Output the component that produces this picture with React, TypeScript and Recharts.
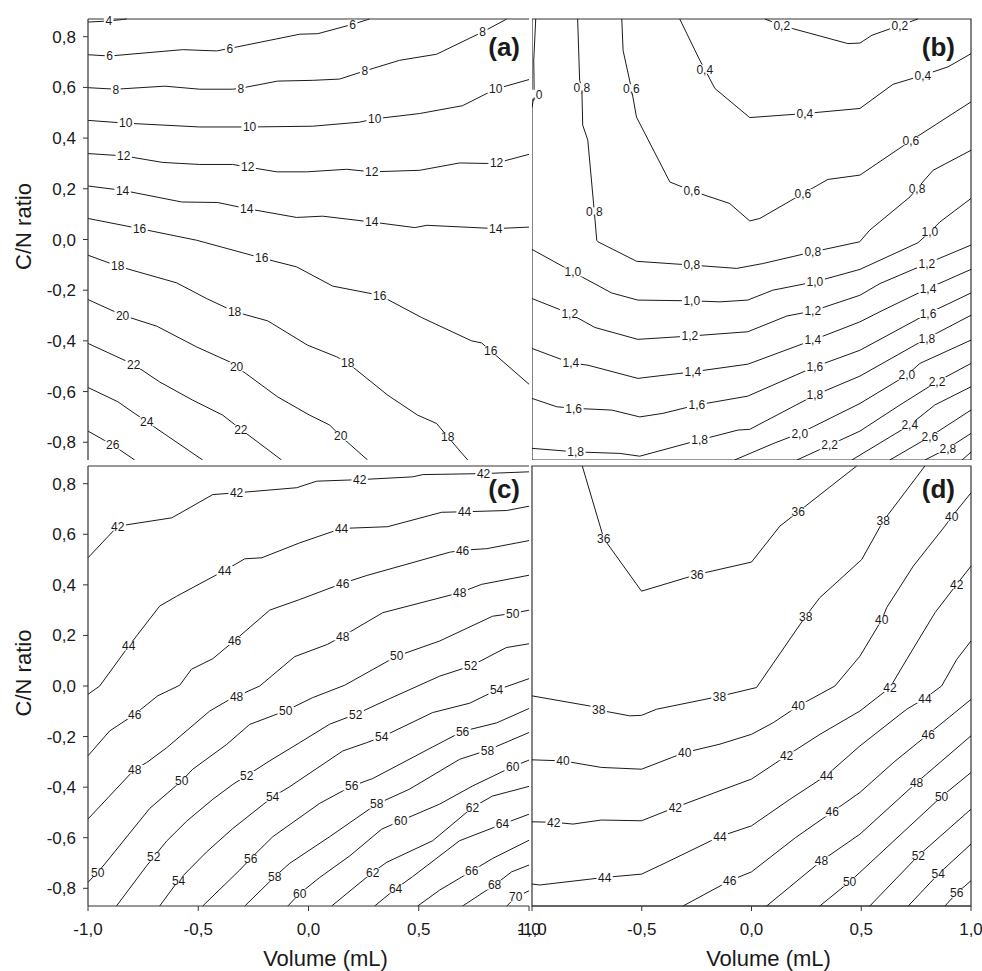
import { ComposedChart, Line, XAxis, YAxis, ReferenceLine, ReferenceArea, Customized } from 'recharts';

type Pt = [number, number, number?];
type Contour = { level: string; pts: Pt[] };

const FONT = '"Liberation Sans", Arial, Helvetica, sans-serif';
const INK = '#1a1a1a';

const yTicks = [-0.8, -0.6, -0.4, -0.2, 0, 0.2, 0.4, 0.6, 0.8];
const xTicks = [-1, -0.5, 0, 0.5, 1];
const Y_DOMAIN = [-0.87, 0.87];

// (a) – third value 1 marks where the level label sits
const panelA: Contour[] = [
  { level: '4', pts: [[-1, 0.858], [-0.906, 0.862, 1], [-0.824, 0.87]] },
  { level: '6', pts: [[-1, 0.729], [-0.902, 0.724, 1], [-0.571, 0.749], [-0.416, 0.744], [-0.357, 0.754, 1], [-0.04, 0.81], [0.042, 0.812], [0.2, 0.849, 1], [0.277, 0.87]] },
  { level: '8', pts: [[-1, 0.599], [-0.874, 0.593, 1], [-0.652, 0.605], [-0.493, 0.593], [-0.344, 0.593], [-0.307, 0.597, 1], [-0.14, 0.625], [0.019, 0.628], [0.141, 0.633], [0.255, 0.665, 1], [0.413, 0.707], [0.581, 0.731], [0.79, 0.819, 1], [0.899, 0.87]] },
  { level: '10', pts: [[-1, 0.47], [-0.829, 0.459, 1], [-0.493, 0.444], [-0.267, 0.444, 1], [0.019, 0.447], [0.232, 0.463], [0.3, 0.476, 1], [0.504, 0.497], [0.699, 0.528], [0.849, 0.594, 1], [1, 0.631]] },
  { level: '12', pts: [[-1, 0.339], [-0.838, 0.33, 1], [-0.661, 0.304], [-0.493, 0.296], [-0.344, 0.296], [-0.276, 0.286, 1], [-0.144, 0.267], [-0.008, 0.267], [0.173, 0.277], [0.287, 0.267, 1], [0.504, 0.273], [0.685, 0.302], [0.808, 0.3], [0.853, 0.302, 1], [1, 0.336]] },
  { level: '14', pts: [[-1, 0.211], [-0.843, 0.194, 1], [-0.575, 0.148], [-0.412, 0.146], [-0.28, 0.122, 1], [-0.054, 0.087], [0.064, 0.092], [0.287, 0.069, 1], [0.482, 0.047], [0.537, 0.056], [0.849, 0.043, 1], [1, 0.049]] },
  { level: '16', pts: [[-1, 0.083], [-0.766, 0.043, 1], [-0.507, -0.003], [-0.212, -0.073, 1], [-0.054, -0.108], [0.11, -0.184], [0.323, -0.22, 1], [0.513, -0.308], [0.74, -0.4], [0.785, -0.408], [0.826, -0.439, 1], [1, -0.571]] },
  { level: '18', pts: [[-1, -0.062], [-0.865, -0.105, 1], [-0.598, -0.171], [-0.462, -0.233], [-0.335, -0.285, 1], [-0.185, -0.321], [-0.004, -0.417], [0.128, -0.463], [0.178, -0.487, 1], [0.359, -0.614], [0.495, -0.693], [0.581, -0.726], [0.631, -0.778, 1], [0.722, -0.87]] },
  { level: '20', pts: [[-1, -0.237], [-0.843, -0.299, 1], [-0.688, -0.342], [-0.507, -0.424], [-0.357, -0.483], [-0.326, -0.502, 1], [-0.14, -0.621], [0.005, -0.693], [0.096, -0.732], [0.146, -0.776, 1], [0.268, -0.87]] },
  { level: '22', pts: [[-1, -0.41], [-0.793, -0.493, 1], [-0.675, -0.562], [-0.525, -0.634], [-0.389, -0.693], [-0.307, -0.749, 1], [-0.122, -0.87]] },
  { level: '24', pts: [[-1, -0.584], [-0.865, -0.64], [-0.734, -0.719, 1], [-0.48, -0.87]] },
  { level: '26', pts: [[-1, -0.756], [-0.888, -0.811, 1], [-0.788, -0.87]] },
];

// (b)
const panelB: Contour[] = [
  { level: '1,0', pts: [[-0.983, 0.87], [-0.992, 0.708], [-0.99, 0.573, 1], [-1, 0.52]] },
  { level: '0,8', pts: [[-0.792, 0.87], [-0.783, 0.628], [-0.773, 0.599, 1], [-0.769, 0.451], [-0.746, 0.393], [-0.716, 0.109, 1], [-0.705, -0.003], [-0.7, -0.009], [-0.523, -0.086], [-0.272, -0.101, 1], [-0.067, -0.114], [0.051, -0.095], [0.279, -0.049, 1], [0.493, -0.009], [0.539, 0.037], [0.722, 0.168], [0.754, 0.201, 1], [0.827, 0.273], [1, 0.352]] },
  { level: '0,6', pts: [[-0.591, 0.87], [-0.585, 0.746], [-0.547, 0.595, 1], [-0.524, 0.483], [-0.372, 0.227], [-0.272, 0.192, 1], [-0.099, 0.142], [-0.008, 0.073], [0.038, 0.083], [0.234, 0.181, 1], [0.348, 0.237], [0.494, 0.254], [0.726, 0.39, 1], [1, 0.543]] },
  { level: '0,4', pts: [[-0.327, 0.87], [-0.236, 0.708], [-0.213, 0.672, 1], [-0.167, 0.596], [-0.008, 0.481], [0.243, 0.497, 1], [0.494, 0.517], [0.644, 0.612], [0.781, 0.648, 1], [0.895, 0.681], [1, 0.733]] },
  { level: '0,2', pts: [[0.061, 0.87], [0.138, 0.845, 1], [0.188, 0.832], [0.439, 0.773], [0.494, 0.775], [0.549, 0.806], [0.676, 0.845, 1], [0.758, 0.87]] },
  { level: '1,0', pts: [[-1, -0.039], [-0.814, -0.128, 1], [-0.637, -0.211], [-0.518, -0.239], [-0.272, -0.242, 1], [-0.144, -0.246], [-0.017, -0.239], [0.097, -0.2], [0.289, -0.167, 1], [0.494, -0.118], [0.758, -0.013], [0.813, 0.03, 1], [0.858, 0.069], [1, 0.162]] },
  { level: '1,2', pts: [[-1, -0.233], [-0.828, -0.292, 1], [-0.714, -0.347], [-0.518, -0.394], [-0.281, -0.381, 1], [-0.017, -0.364], [0.161, -0.302], [0.279, -0.282, 1], [0.494, -0.22], [0.585, -0.174], [0.799, -0.095, 1], [1, -0.022]] },
  { level: '1,4', pts: [[-1, -0.43], [-0.823, -0.487, 1], [-0.745, -0.496], [-0.518, -0.548], [-0.267, -0.522, 1], [-0.017, -0.492], [0.279, -0.397, 1], [0.494, -0.325], [0.585, -0.285], [0.804, -0.193, 1], [1, -0.118]] },
  { level: '1,6', pts: [[-1, -0.627], [-0.887, -0.66], [-0.81, -0.666, 1], [-0.637, -0.673], [-0.509, -0.7], [-0.404, -0.686], [-0.249, -0.653, 1], [-0.017, -0.618], [0.289, -0.502, 1], [0.494, -0.437], [0.804, -0.292, 1], [1, -0.211]] },
  { level: '1,8', pts: [[-1, -0.824], [-0.801, -0.838, 1], [-0.6, -0.844], [-0.509, -0.855], [-0.236, -0.791, 1], [-0.062, -0.752], [-0.008, -0.749], [0.289, -0.614, 1], [0.494, -0.539], [0.799, -0.39, 1], [1, -0.299]] },
  { level: '2,0', pts: [[-0.077, -0.87], [0.105, -0.803], [0.22, -0.765, 1], [0.494, -0.647], [0.708, -0.535, 1], [0.767, -0.489], [1, -0.397]] },
  { level: '2,2', pts: [[0.207, -0.87], [0.356, -0.811, 1], [0.494, -0.756], [0.676, -0.653], [0.845, -0.561, 1], [1, -0.489]] },
  { level: '2,4', pts: [[0.457, -0.87], [0.721, -0.732, 1], [0.835, -0.653], [1, -0.581]] },
  { level: '2,6', pts: [[0.63, -0.87], [0.813, -0.778, 1], [1, -0.673]] },
  { level: '2,8', pts: [[0.79, -0.87], [0.895, -0.824, 1], [1, -0.765]] },
  { level: '3,0', pts: [[0.959, -0.87], [1, -0.839]] },
];

// (c)
const panelC: Contour[] = [
  { level: '42', pts: [[-1, 0.507], [-0.865, 0.632, 1], [-0.62, 0.665], [-0.434, 0.757], [-0.326, 0.764, 1], [-0.054, 0.784], [0.037, 0.81], [0.232, 0.816, 1], [0.472, 0.827], [0.518, 0.836], [0.794, 0.84, 1], [1, 0.847]] },
  { level: '44', pts: [[-1, -0.033], [-0.947, 0], [-0.815, 0.158, 1], [-0.675, 0.316], [-0.598, 0.355], [-0.38, 0.457, 1], [-0.289, 0.503], [-0.212, 0.507], [-0.04, 0.566], [0.15, 0.623, 1], [0.359, 0.63], [0.604, 0.687], [0.708, 0.689, 1], [0.899, 0.694], [1, 0.711]] },
  { level: '46', pts: [[-1, -0.276], [-0.902, -0.178], [-0.788, -0.112, 1], [-0.684, -0.039], [-0.584, 0.003], [-0.531, 0.066], [-0.434, 0.108], [-0.335, 0.18, 1], [-0.176, 0.3], [-0.04, 0.342], [0.155, 0.406, 1], [0.264, 0.437], [0.64, 0.529], [0.699, 0.537, 1], [0.808, 0.543], [1, 0.575]] },
  { level: '48', pts: [[-1, -0.526], [-0.788, -0.329, 1], [-0.734, -0.303], [-0.643, -0.244], [-0.448, -0.099], [-0.357, -0.053], [-0.326, -0.041, 1], [-0.221, 0], [-0.063, 0.116], [0.087, 0.165], [0.155, 0.197, 1], [0.337, 0.29], [0.686, 0.369, 1], [0.785, 0.402], [1, 0.438]] },
  { level: '50', pts: [[-1, -0.776], [-0.956, -0.737, 1], [-0.924, -0.704], [-0.72, -0.484], [-0.575, -0.375, 1], [-0.525, -0.329], [-0.371, -0.231], [-0.267, -0.152], [-0.103, -0.098, 1], [0.019, -0.046], [0.164, 0.003], [0.4, 0.118, 1], [0.595, 0.178], [0.835, 0.276], [0.926, 0.287, 1], [1, 0.3]] },
  { level: '52', pts: [[-0.871, -0.87], [-0.734, -0.711], [-0.702, -0.676, 1], [-0.643, -0.613], [-0.552, -0.534], [-0.434, -0.448], [-0.343, -0.389], [-0.28, -0.354, 1], [-0.176, -0.296], [-0.04, -0.224], [0.096, -0.151], [0.214, -0.112, 1], [0.368, -0.05], [0.595, 0.039], [0.736, 0.079, 1], [0.897, 0.152], [1, 0.167]] },
  { level: '54', pts: [[-0.675, -0.87], [-0.589, -0.768, 1], [-0.462, -0.656], [-0.344, -0.564], [-0.163, -0.439, 1], [-0.085, -0.398], [0.155, -0.257], [0.264, -0.224], [0.332, -0.202, 1], [0.563, -0.105], [0.731, -0.068], [0.853, -0.016, 1], [1, 0.029]] },
  { level: '56', pts: [[-0.48, -0.87], [-0.312, -0.728], [-0.262, -0.682, 1], [-0.162, -0.596], [0.051, -0.464], [0.196, -0.396, 1], [0.291, -0.366], [0.563, -0.241], [0.699, -0.179, 1], [0.853, -0.146], [1, -0.089]] },
  { level: '58', pts: [[-0.289, -0.87], [-0.153, -0.754, 1], [-0.085, -0.701], [0.096, -0.596], [0.309, -0.467, 1], [0.458, -0.408], [0.685, -0.29], [0.812, -0.254, 1], [1, -0.184]] },
  { level: '60', pts: [[-0.094, -0.87], [-0.04, -0.821, 1], [0.051, -0.757], [0.187, -0.672], [0.332, -0.566], [0.418, -0.533, 1], [0.595, -0.467], [0.745, -0.395], [0.926, -0.319, 1], [1, -0.293]] },
  { level: '62', pts: [[0.105, -0.87], [0.291, -0.737, 1], [0.355, -0.697], [0.563, -0.612], [0.744, -0.48, 1], [0.835, -0.435], [1, -0.397]] },
  { level: '64', pts: [[0.3, -0.87], [0.395, -0.802, 1], [0.472, -0.754], [0.685, -0.612], [0.88, -0.546, 1], [1, -0.507]] },
  { level: '66', pts: [[0.495, -0.87], [0.595, -0.807], [0.74, -0.732, 1], [0.835, -0.682], [1, -0.61]] },
  { level: '68', pts: [[0.699, -0.87], [0.844, -0.787, 1], [0.921, -0.735], [1, -0.708]] },
  { level: '70', pts: [[0.899, -0.87], [0.94, -0.835, 1], [1, -0.81]] },
];

// (d)
const panelD: Contour[] = [
  { level: '36', pts: [[-0.771, 0.87], [-0.673, 0.583, 1], [-0.501, 0.375], [-0.248, 0.441, 1], [0, 0.49], [0.129, 0.632], [0.213, 0.689, 1], [0.479, 0.87]] },
  { level: '38', pts: [[-1, -0.039], [-0.737, -0.079], [-0.696, -0.095, 1], [-0.555, -0.118], [-0.501, -0.116], [-0.433, -0.092], [-0.146, -0.041, 1], [0.023, -0.006], [0.247, 0.276, 1], [0.311, 0.349], [0.502, 0.5], [0.6, 0.652, 1], [0.79, 0.87]] },
  { level: '40', pts: [[-1, -0.292], [-0.859, -0.296, 1], [-0.684, -0.322], [-0.501, -0.329], [-0.304, -0.263, 1], [-0.144, -0.23], [0, -0.191], [0.099, -0.145], [0.213, -0.079, 1], [0.38, 0], [0.494, 0.118], [0.593, 0.261, 1], [0.616, 0.31], [0.737, 0.474], [0.881, 0.632], [0.912, 0.669, 1], [1, 0.764]] },
  { level: '42', pts: [[-1, -0.537], [-0.901, -0.539, 1], [-0.813, -0.546], [-0.684, -0.53], [-0.501, -0.533], [-0.347, -0.48, 1], [-0.205, -0.434], [0, -0.368], [0.16, -0.276, 1], [0.312, -0.191], [0.494, -0.099], [0.631, -0.006, 1], [0.707, 0.105], [0.836, 0.29], [0.935, 0.402, 1], [1, 0.474]] },
  { level: '44', pts: [[-1, -0.783], [-0.965, -0.787], [-0.669, -0.757, 1], [-0.501, -0.744], [-0.403, -0.704], [-0.144, -0.595, 1], [0, -0.553], [0.175, -0.448], [0.342, -0.353, 1], [0.494, -0.237], [0.707, -0.092], [0.79, -0.049, 1], [0.866, 0], [0.935, 0.105], [1, 0.178]] },
  { level: '46', pts: [[-0.312, -0.87], [-0.099, -0.77, 1], [0, -0.735], [0.2, -0.6], [0.368, -0.498, 1], [0.494, -0.421], [0.65, -0.3], [0.805, -0.191, 1], [1, -0.053]] },
  { level: '48', pts: [[0.069, -0.87], [0.319, -0.691, 1], [0.494, -0.586], [0.752, -0.382, 1], [1, -0.197]] },
  { level: '50', pts: [[0.311, -0.87], [0.447, -0.774, 1], [0.494, -0.737], [0.866, -0.437, 1], [1, -0.342]] },
  { level: '52', pts: [[0.539, -0.87], [0.76, -0.671, 1], [1, -0.487]] },
  { level: '54', pts: [[0.714, -0.87], [0.851, -0.744, 1], [1, -0.625]] },
  { level: '56', pts: [[0.881, -0.87], [0.935, -0.819, 1], [1, -0.77]] },
];

const fmt = (v: number) => v.toFixed(1).replace('.', ',');
const textW = (s: string) => s.split('').reduce((w, c) => w + (c === ',' ? 3.4 : 6.7), 0);

const toRows = (pts: Pt[]) => pts.map(([x, y, l]) => ({ x, y, lab: !!l }));

// label drawn on its point, with a white patch that breaks the line
const labelDot = (level: string) => (props: any) => {
  const { cx, cy, payload, index } = props;
  if (!payload || !payload.lab || cx == null || cy == null) return <g key={`d${index}`} />;
  const w = textW(level) + 3;
  return (
    <g key={`d${index}`}>
      <rect x={cx - w / 2} y={cy - 4.5} width={w} height={9} fill="#fff" />
      <text x={cx} y={cy} dy="0.36em" textAnchor="middle" fontSize={12} fontFamily={FONT} fill={INK}>
        {level}
      </text>
    </g>
  );
};

const renderContours = (contours: Contour[], id: string) =>
  contours.map((c, i) => (
    <Line
      key={`${id}-${i}`}
      data={toRows(c.pts)}
      dataKey="y"
      type="linear"
      stroke="#000"
      strokeWidth={0.9}
      dot={labelDot(c.level)}
      activeDot={false}
      legendType="none"
      isAnimationActive={false}
    />
  ));

const tickStyle = { fontSize: 17, fontFamily: FONT, fill: INK };

const yTitle = (props: any) => {
  const vb = props.viewBox || { y: 0, height: 0 };
  const cy = vb.y + vb.height / 2 - 13;
  return (
    <text x={23} y={cy} transform={`rotate(-90, 23, ${cy})`} textAnchor="middle" dominantBaseline="central" fontSize={22} fontFamily={FONT} fill={INK}>
      C/N ratio
    </text>
  );
};

const xTitle = (props: any) => {
  const vb = props.viewBox || { x: 0, y: 0, width: 0 };
  return (
    <text x={vb.x + vb.width / 2 + 17} y={vb.y + 60} textAnchor="middle" fontSize={22} fontFamily={FONT} fill={INK}>
      Volume (mL)
    </text>
  );
};

const tag = (label: string, x: number, y: number) => () => (
  <text x={x} y={y} textAnchor="end" fontSize={26} fontWeight={700} fontFamily={FONT} fill={INK}>
    {label}
  </text>
);

const AXIS = '#333';

const App = () => {
  return (
    <div style={{ position: 'absolute', left: 0, top: 0, width: 982, height: 971, background: '#fff', overflow: 'hidden' }}>
      {/* (a) */}
      <div style={{ position: 'absolute', left: 0, top: 0 }}>
        <ComposedChart width={529} height={460} margin={{ top: 19, right: 0, bottom: 0, left: 0 }}>
          <XAxis dataKey="x" type="number" domain={[-1, 1]} hide />
          <YAxis
            type="number"
            domain={Y_DOMAIN}
            ticks={yTicks}
            interval={0}
            width={88}
            tickFormatter={fmt}
            tick={tickStyle}
            tickSize={5}
            tickMargin={7}
            axisLine={{ stroke: AXIS, strokeWidth: 1.2 }}
            tickLine={{ stroke: AXIS }}
            label={yTitle}
          />
          {renderContours(panelA, 'a')}
          <ReferenceLine y={0.87} stroke={AXIS} strokeWidth={1.2} />
          <Customized component={tag('(a)', 520, 56)} />
        </ComposedChart>
      </div>

      {/* (b) */}
      <div style={{ position: 'absolute', left: 532, top: 0 }}>
        <ComposedChart width={440} height={460} margin={{ top: 19, right: 1, bottom: 0, left: 0 }}>
          <XAxis dataKey="x" type="number" domain={[-1, 1]} hide />
          <YAxis type="number" domain={Y_DOMAIN} hide />
          {renderContours(panelB, 'b')}
          <ReferenceArea x1={-1} x2={1} y1={-0.87} y2={0.87} fill="none" stroke={AXIS} strokeWidth={1.2} />
          <Customized component={tag('(b)', 423, 56)} />
        </ComposedChart>
      </div>

      {/* (c) */}
      <div style={{ position: 'absolute', left: 0, top: 460 }}>
        <ComposedChart width={560} height={511} margin={{ top: 6, right: 31, bottom: 0, left: 0 }}>
          <XAxis
            dataKey="x"
            type="number"
            domain={[-1, 1]}
            ticks={xTicks}
            interval={0}
            height={65}
            tickFormatter={fmt}
            tick={tickStyle}
            tickSize={5}
            tickMargin={12}
            axisLine={{ stroke: AXIS, strokeWidth: 1.2 }}
            tickLine={{ stroke: AXIS }}
            label={xTitle}
          />
          <YAxis
            type="number"
            domain={Y_DOMAIN}
            ticks={yTicks}
            interval={0}
            width={88}
            tickFormatter={fmt}
            tick={tickStyle}
            tickSize={5}
            tickMargin={7}
            axisLine={{ stroke: AXIS, strokeWidth: 1.2 }}
            tickLine={{ stroke: AXIS }}
            label={yTitle}
          />
          {renderContours(panelC, 'c')}
          <ReferenceLine y={0.87} stroke={AXIS} strokeWidth={1.2} />
          <Customized component={tag('(c)', 520, 38)} />
        </ComposedChart>
      </div>

      {/* (d) */}
      <div style={{ position: 'absolute', left: 500, top: 460 }}>
        <ComposedChart width={482} height={511} margin={{ top: 6, right: 11, bottom: 0, left: 32 }}>
          <XAxis
            dataKey="x"
            type="number"
            domain={[-1, 1]}
            ticks={xTicks}
            interval={0}
            height={65}
            tickFormatter={fmt}
            tick={tickStyle}
            tickSize={5}
            tickMargin={12}
            axisLine={{ stroke: AXIS, strokeWidth: 1.2 }}
            tickLine={{ stroke: AXIS }}
            label={xTitle}
          />
          <YAxis type="number" domain={Y_DOMAIN} hide />
          {renderContours(panelD, 'd')}
          <ReferenceArea x1={-1} x2={1} y1={-0.87} y2={0.87} fill="none" stroke={AXIS} strokeWidth={1.2} />
          <Customized component={tag('(d)', 455, 38)} />
        </ComposedChart>
      </div>
    </div>
  );
};

export default App;
